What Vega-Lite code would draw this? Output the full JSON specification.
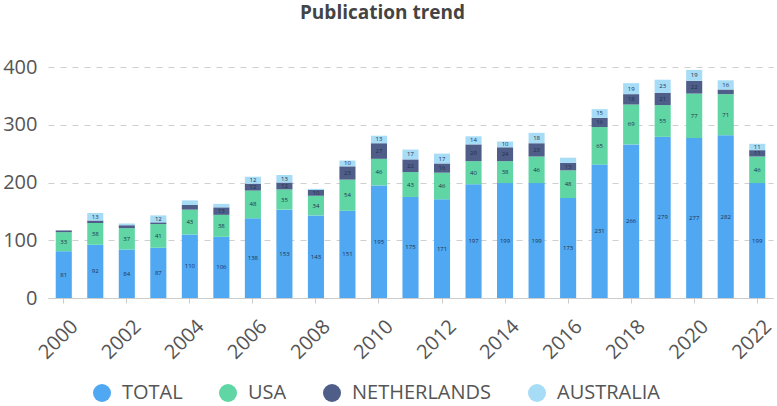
{
  "$schema": "https://vega.github.io/schema/vega-lite/v6.json",
  "autosize": "none",
  "width": 725,
  "height": 231,
  "padding": {"left": 48, "top": 67, "right": 4, "bottom": 108},
  "background": "white",
  "config": {
    "view": {"stroke": null},
    "font": "Open Sans"
  },
  "title": {
    "text": "Publication trend",
    "fontSize": 19,
    "fontWeight": "bold",
    "color": "#444444",
    "anchor": "middle",
    "offset": 34,
    "dx": -28
  },
  "data": {
    "values": [
      {"year": 2000, "series": "TOTAL", "count": 81},
      {"year": 2000, "series": "USA", "count": 33},
      {"year": 2000, "series": "NETHERLANDS", "count": 3},
      {"year": 2001, "series": "TOTAL", "count": 92},
      {"year": 2001, "series": "USA", "count": 38},
      {"year": 2001, "series": "NETHERLANDS", "count": 4},
      {"year": 2001, "series": "AUSTRALIA", "count": 13},
      {"year": 2002, "series": "TOTAL", "count": 84},
      {"year": 2002, "series": "USA", "count": 37},
      {"year": 2002, "series": "NETHERLANDS", "count": 5},
      {"year": 2002, "series": "AUSTRALIA", "count": 3},
      {"year": 2003, "series": "TOTAL", "count": 87},
      {"year": 2003, "series": "USA", "count": 41},
      {"year": 2003, "series": "NETHERLANDS", "count": 3},
      {"year": 2003, "series": "AUSTRALIA", "count": 12},
      {"year": 2004, "series": "TOTAL", "count": 110},
      {"year": 2004, "series": "USA", "count": 43},
      {"year": 2004, "series": "NETHERLANDS", "count": 8},
      {"year": 2004, "series": "AUSTRALIA", "count": 8},
      {"year": 2005, "series": "TOTAL", "count": 106},
      {"year": 2005, "series": "USA", "count": 38},
      {"year": 2005, "series": "NETHERLANDS", "count": 13},
      {"year": 2005, "series": "AUSTRALIA", "count": 6},
      {"year": 2006, "series": "TOTAL", "count": 138},
      {"year": 2006, "series": "USA", "count": 48},
      {"year": 2006, "series": "NETHERLANDS", "count": 12},
      {"year": 2006, "series": "AUSTRALIA", "count": 12},
      {"year": 2007, "series": "TOTAL", "count": 153},
      {"year": 2007, "series": "USA", "count": 35},
      {"year": 2007, "series": "NETHERLANDS", "count": 12},
      {"year": 2007, "series": "AUSTRALIA", "count": 13},
      {"year": 2008, "series": "TOTAL", "count": 143},
      {"year": 2008, "series": "USA", "count": 34},
      {"year": 2008, "series": "NETHERLANDS", "count": 10},
      {"year": 2008, "series": "AUSTRALIA", "count": 2},
      {"year": 2009, "series": "TOTAL", "count": 151},
      {"year": 2009, "series": "USA", "count": 54},
      {"year": 2009, "series": "NETHERLANDS", "count": 23},
      {"year": 2009, "series": "AUSTRALIA", "count": 10},
      {"year": 2010, "series": "TOTAL", "count": 195},
      {"year": 2010, "series": "USA", "count": 46},
      {"year": 2010, "series": "NETHERLANDS", "count": 27},
      {"year": 2010, "series": "AUSTRALIA", "count": 13},
      {"year": 2011, "series": "TOTAL", "count": 175},
      {"year": 2011, "series": "USA", "count": 43},
      {"year": 2011, "series": "NETHERLANDS", "count": 22},
      {"year": 2011, "series": "AUSTRALIA", "count": 17},
      {"year": 2012, "series": "TOTAL", "count": 171},
      {"year": 2012, "series": "USA", "count": 46},
      {"year": 2012, "series": "NETHERLANDS", "count": 16},
      {"year": 2012, "series": "AUSTRALIA", "count": 17},
      {"year": 2013, "series": "TOTAL", "count": 197},
      {"year": 2013, "series": "USA", "count": 40},
      {"year": 2013, "series": "NETHERLANDS", "count": 29},
      {"year": 2013, "series": "AUSTRALIA", "count": 14},
      {"year": 2014, "series": "TOTAL", "count": 199},
      {"year": 2014, "series": "USA", "count": 38},
      {"year": 2014, "series": "NETHERLANDS", "count": 24},
      {"year": 2014, "series": "AUSTRALIA", "count": 10},
      {"year": 2015, "series": "TOTAL", "count": 199},
      {"year": 2015, "series": "USA", "count": 46},
      {"year": 2015, "series": "NETHERLANDS", "count": 23},
      {"year": 2015, "series": "AUSTRALIA", "count": 18},
      {"year": 2016, "series": "TOTAL", "count": 173},
      {"year": 2016, "series": "USA", "count": 48},
      {"year": 2016, "series": "NETHERLANDS", "count": 13},
      {"year": 2016, "series": "AUSTRALIA", "count": 9},
      {"year": 2017, "series": "TOTAL", "count": 231},
      {"year": 2017, "series": "USA", "count": 65},
      {"year": 2017, "series": "NETHERLANDS", "count": 16},
      {"year": 2017, "series": "AUSTRALIA", "count": 15},
      {"year": 2018, "series": "TOTAL", "count": 266},
      {"year": 2018, "series": "USA", "count": 69},
      {"year": 2018, "series": "NETHERLANDS", "count": 18},
      {"year": 2018, "series": "AUSTRALIA", "count": 19},
      {"year": 2019, "series": "TOTAL", "count": 279},
      {"year": 2019, "series": "USA", "count": 55},
      {"year": 2019, "series": "NETHERLANDS", "count": 21},
      {"year": 2019, "series": "AUSTRALIA", "count": 23},
      {"year": 2020, "series": "TOTAL", "count": 277},
      {"year": 2020, "series": "USA", "count": 77},
      {"year": 2020, "series": "NETHERLANDS", "count": 22},
      {"year": 2020, "series": "AUSTRALIA", "count": 19},
      {"year": 2021, "series": "TOTAL", "count": 282},
      {"year": 2021, "series": "USA", "count": 71},
      {"year": 2021, "series": "NETHERLANDS", "count": 8},
      {"year": 2021, "series": "AUSTRALIA", "count": 16},
      {"year": 2022, "series": "TOTAL", "count": 199},
      {"year": 2022, "series": "USA", "count": 46},
      {"year": 2022, "series": "NETHERLANDS", "count": 11},
      {"year": 2022, "series": "AUSTRALIA", "count": 11}
    ]
  },
  "transform": [
    {
      "lookup": "series",
      "from": {
        "data": {
          "values": [
            {"series": "TOTAL", "k": 0},
            {"series": "USA", "k": 1},
            {"series": "NETHERLANDS", "k": 2},
            {"series": "AUSTRALIA", "k": 3}
          ]
        },
        "key": "series",
        "fields": ["k"]
      }
    },
    {
      "stack": "count",
      "groupby": ["year"],
      "sort": [{"field": "k", "order": "ascending"}],
      "as": ["v0", "v1"]
    }
  ],
  "encoding": {
    "x": {
      "field": "year",
      "type": "ordinal",
      "scale": {"paddingInner": 0.49, "paddingOuter": 0.245},
      "axis": {
        "title": null,
        "values": [2000, 2002, 2004, 2006, 2008, 2010, 2012, 2014, 2016, 2018, 2020, 2022],
        "labelAngle": -45,
        "labelFontSize": 20,
        "labelColor": "#555555",
        "labelPadding": 13,
        "labelOffset": 4,
        "domainColor": "#cccccc",
        "tickColor": "#cccccc",
        "tickSize": 5
      }
    }
  },
  "layer": [
    {
      "mark": {"type": "bar"},
      "encoding": {
        "y": {
          "field": "v0",
          "type": "quantitative",
          "scale": {"domain": [0, 400]},
          "axis": {
            "title": null,
            "values": [0, 100, 200, 300, 400],
            "domain": false,
            "ticks": false,
            "labelFontSize": 20,
            "labelColor": "#555555",
            "labelPadding": 11,
            "gridColor": "#cfcfcf",
            "gridDash": [6, 6]
          }
        },
        "y2": {"field": "v1"},
        "color": {
          "field": "series",
          "type": "nominal",
          "scale": {
            "domain": ["TOTAL", "USA", "NETHERLANDS", "AUSTRALIA"],
            "range": ["#4fa8f1", "#5fd6a4", "#4e5e88", "#a7dcf6"]
          },
          "legend": {
            "title": null,
            "orient": "none",
            "legendX": 44,
            "legendY": 316,
            "direction": "horizontal",
            "symbolType": "circle",
            "symbolSize": 324,
            "symbolStrokeWidth": 0,
            "symbolOpacity": 1,
            "labelFontSize": 20,
            "labelColor": "#555555",
            "labelOffset": 10,
            "columnPadding": 35
          }
        }
      }
    },
    {
      "transform": [
        {"filter": "datum.count >= 10"},
        {"fold": ["v0", "v1"], "as": ["edge", "pos"]},
        {"aggregate": [{"op": "mean", "field": "pos", "as": "mid"}], "groupby": ["year", "series", "count"]}
      ],
      "mark": {"type": "text", "fontSize": 6, "color": "#24304f"},
      "encoding": {
        "y": {"field": "mid", "type": "quantitative"},
        "text": {"field": "count", "type": "quantitative"}
      }
    }
  ]
}
